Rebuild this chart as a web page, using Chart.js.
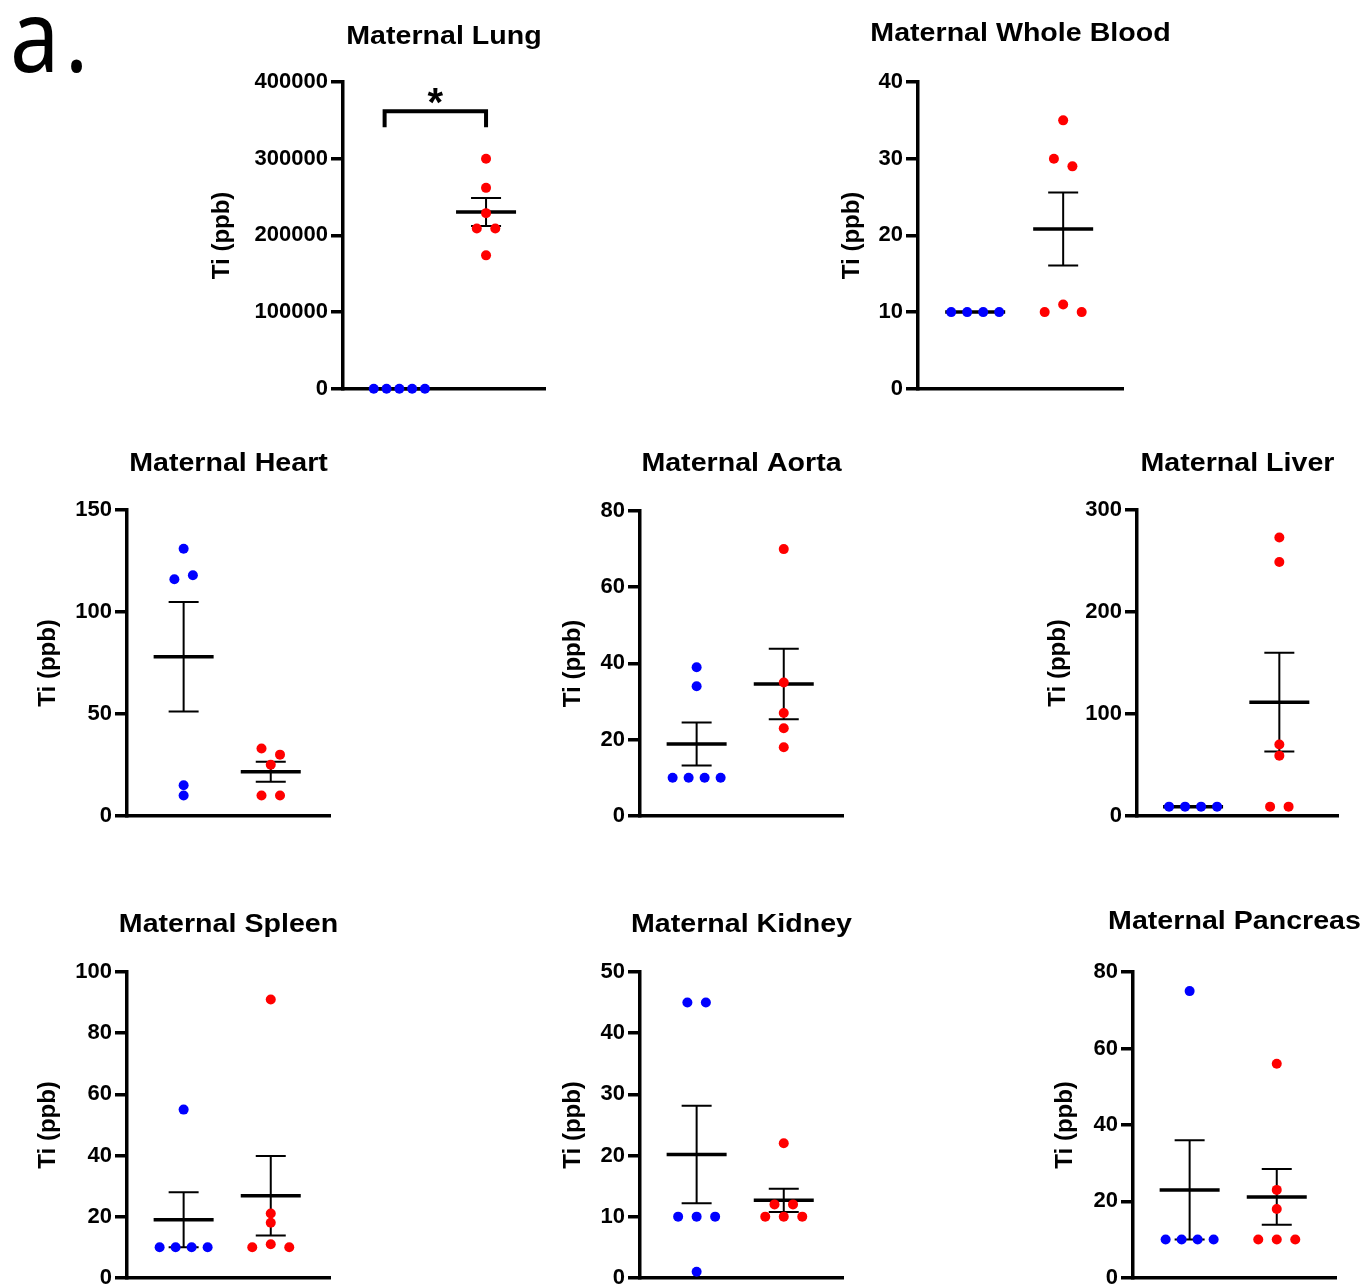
<!DOCTYPE html>
<html>
<head>
<meta charset="utf-8">
<script src="https://cdn.jsdelivr.net/npm/chart.js@4.4.1/dist/chart.umd.min.js"></script>
<style>
  body { margin:0; background:#fff; width:1365px; height:1286px; overflow:hidden; position:relative; }
  canvas { position:absolute; }
  #tag { position:absolute; left:10px; top:-17px; font:100px/100px "Noto Sans", sans-serif; color:#000;
         letter-spacing:6px; transform:scaleX(0.88); transform-origin:left top; }
</style>
</head>
<body>
<div id="tag">a.</div>
<script>
// Ti concentration (ppb) per animal
// ctrl = blue group, exp = red group
const LUNG_CTRL = [0, 0, 0, 0, 0];
const LUNG_EXP = [300000, 262000, 229000, 209000, 209000, 174000];
const BLOOD_CTRL = [10, 10, 10, 10];
const BLOOD_EXP = [35, 30, 29, 10, 11, 10];
const HEART_CTRL = [131, 116, 118, 15, 10];
const HEART_EXP = [33, 30, 25, 10, 10];
const AORTA_CTRL = [39, 34, 10, 10, 10, 10];
const AORTA_EXP = [70, 35, 27, 23, 18];
const LIVER_CTRL = [9, 9, 9, 9];
const LIVER_EXP = [273, 249, 70, 59, 9, 9];
const SPLEEN_CTRL = [55, 10, 10, 10, 10];
const SPLEEN_EXP = [91, 21, 18, 10, 11, 10];
const KIDNEY_CTRL = [45, 45, 10, 10, 10, 1];
const KIDNEY_EXP = [22, 12, 12, 10, 10, 10];
const PANCREAS_CTRL = [75, 10, 10, 10, 10];
const PANCREAS_EXP = [56, 23, 18, 10, 10, 10];

// y axis ticks per panel
const LUNG_TICKS = [0, 100000, 200000, 300000, 400000];
const BLOOD_TICKS = [0, 10, 20, 30, 40];
const HEART_TICKS = [0, 50, 100, 150];
const AORTA_TICKS = [0, 20, 40, 60, 80];
const LIVER_TICKS = [0, 100, 200, 300];
const SPLEEN_TICKS = [0, 20, 40, 60, 80, 100];
const KIDNEY_TICKS = [0, 10, 20, 30, 40, 50];
const PANCREAS_TICKS = [0, 20, 40, 60, 80];

// significance bracket on the lung panel (x in group units, y in ppb)
const SIG_X = [0.83, 2.0];
const SIG_Y = [341000, 362000];
const SIG_STAR_Y = 386000;

const BLUE = '#0000ff', RED = '#ff0000';
const FONT = '"Liberation Sans", Arial, sans-serif';
const X_MIN = 0.35, X_MAX = 2.68;
const SWARM_GAP = 9, MEAN_HALF = 30, CAP_HALF = 15;

// page layout of each panel: axis x, right end, top/bottom of plot, label gap, title y
const PANELS = [
  { title:'Maternal Lung', ctrl:LUNG_CTRL, exp:LUNG_EXP, ticks:LUNG_TICKS, ax:343, right:545, top:82, bottom:389, labelGap:121, titleY:34, sig:true },
  { title:'Maternal Whole Blood', ctrl:BLOOD_CTRL, exp:BLOOD_EXP, ticks:BLOOD_TICKS, ax:918, right:1123, top:82, bottom:389, labelGap:66, titleY:31 },
  { title:'Maternal Heart', ctrl:HEART_CTRL, exp:HEART_EXP, ticks:HEART_TICKS, ax:127, right:330, top:510, bottom:816, labelGap:79, titleY:461 },
  { title:'Maternal Aorta', ctrl:AORTA_CTRL, exp:AORTA_EXP, ticks:AORTA_TICKS, ax:640, right:843, top:511, bottom:816, labelGap:67, titleY:461 },
  { title:'Maternal Liver', ctrl:LIVER_CTRL, exp:LIVER_EXP, ticks:LIVER_TICKS, ax:1137, right:1338, top:510, bottom:816, labelGap:79, titleY:461 },
  { title:'Maternal Spleen', ctrl:SPLEEN_CTRL, exp:SPLEEN_EXP, ticks:SPLEEN_TICKS, ax:127, right:330, top:972, bottom:1278, labelGap:79, titleY:922 },
  { title:'Maternal Kidney', ctrl:KIDNEY_CTRL, exp:KIDNEY_EXP, ticks:KIDNEY_TICKS, ax:640, right:843, top:972, bottom:1278, labelGap:67, titleY:922 },
  { title:'Maternal Pancreas', ctrl:PANCREAS_CTRL, exp:PANCREAS_EXP, ticks:PANCREAS_TICKS, ax:1133, right:1336, top:972, bottom:1278, labelGap:68, titleY:919 }
];

function meanSem(vals) {
  const n = vals.length;
  const m = vals.reduce((a, b) => a + b, 0) / n;
  const ss = vals.reduce((a, v) => a + (v - m) * (v - m), 0);
  return { mean: m, sem: Math.sqrt(ss / (n - 1)) / Math.sqrt(n) };
}

// spread points with (nearly) equal values side by side, like a prism scatter
function swarm(vals, center, pxPerY, xPerPx) {
  const idx = vals.map((v, i) => i).sort((a, b) => vals[b] - vals[a] || a - b);
  const out = [];
  let i = 0;
  while (i < idx.length) {
    let j = i + 1;
    while (j < idx.length && (vals[idx[j - 1]] - vals[idx[j]]) * pxPerY < SWARM_GAP) j++;
    const grp = idx.slice(i, j).sort((a, b) => a - b);
    const k = grp.length, sp = Math.min(18.5, 64 / k);
    grp.forEach((g, n) => { out[g] = { x: center + (n - (k - 1) / 2) * sp * xPerPx, y: vals[g] }; });
    i = j;
  }
  return out;
}

function summaryLines(vals, center, xPerPx) {
  const s = meanSem(vals);
  const hw = MEAN_HALF * xPerPx, cw = CAP_HALF * xPerPx;
  const lo = s.mean - s.sem, hi = s.mean + s.sem;
  return {
    mean: [{ x:center - hw, y:s.mean }, { x:center + hw, y:s.mean }],
    err: [{ x:center - cw, y:hi }, { x:center + cw, y:hi }, { x:center, y:null },
          { x:center, y:hi }, { x:center, y:lo }, { x:center, y:null },
          { x:center - cw, y:lo }, { x:center + cw, y:lo }]
  };
}

const panelText = {
  id: 'panelText',
  afterDraw(chart, args, opts) {
    const { ctx, chartArea } = chart;
    ctx.save();
    ctx.fillStyle = '#000';
    ctx.font = 'bold 26px ' + FONT;
    ctx.textAlign = 'center';
    ctx.textBaseline = 'middle';
    ctx.translate((chartArea.left + chartArea.right) / 2, chartArea.top - opts.titleOffset + 3);
    ctx.scale(1.1, 1);
    ctx.fillText(opts.title, 0, 0);
    ctx.restore();
    if (opts.sig) {
      const x = chart.scales.x.getPixelForValue((SIG_X[0] + SIG_X[1]) / 2);
      const y = chart.scales.y.getPixelForValue(SIG_STAR_Y);
      ctx.save();
      ctx.fillStyle = '#000';
      ctx.font = 'bold 40px ' + FONT;
      ctx.textAlign = 'center';
      ctx.textBaseline = 'alphabetic';
      ctx.fillText('*', x, y + 23);
      ctx.restore();
    }
  }
};

function makePanel(p) {
  const yMax = p.ticks[p.ticks.length - 1];
  const plotW = p.right - p.ax, plotH = p.bottom - p.top;
  const xPerPx = (X_MAX - X_MIN) / plotW;
  const pxPerY = plotH / yMax;
  const W = p.labelGap + 20;
  const padTop = p.top - p.titleY + 30, padBottom = 16, padRight = 90;
  const width = W + plotW + padRight, height = padTop + plotH + padBottom;

  const cv = document.createElement('canvas');
  cv.width = width; cv.height = height;
  cv.style.width = width + 'px'; cv.style.height = height + 'px';
  cv.style.left = (p.ax - W) + 'px'; cv.style.top = (p.top - padTop) + 'px';
  document.body.appendChild(cv);

  const c = summaryLines(p.ctrl, 1, xPerPx), e = summaryLines(p.exp, 2, xPerPx);
  const line = (data, w) => ({ type:'line', data, borderColor:'#000', borderWidth:w, pointRadius:0,
                               showLine:true, spanGaps:false, fill:false, order:1, clip:false, borderCapStyle:'butt' });
  const dots = (vals, center, color) => ({ data: swarm(vals, center, pxPerY, xPerPx), backgroundColor:color,
                               pointRadius:5, pointBorderWidth:0, order:0, clip:false });
  const datasets = [
    dots(p.ctrl, 1, BLUE), dots(p.exp, 2, RED),
    line(c.mean, 3.5), line(e.mean, 3.5), line(c.err, 2), line(e.err, 2)
  ];
  if (p.sig) {
    datasets.push(line([{ x:SIG_X[0], y:SIG_Y[0] }, { x:SIG_X[0], y:SIG_Y[1] },
                        { x:SIG_X[1], y:SIG_Y[1] }, { x:SIG_X[1], y:SIG_Y[0] }], 4));
  }

  new Chart(cv, {
    type: 'scatter',
    data: { datasets },
    plugins: [panelText],
    options: {
      responsive: false,
      devicePixelRatio: 1,
      animation: false,
      events: [],
      layout: { padding: { top:padTop, left:0, right:padRight, bottom:padBottom } },
      plugins: {
        legend: { display:false },
        tooltip: { enabled:false },
        panelText: { title:p.title, titleOffset:p.top - p.titleY, sig:!!p.sig }
      },
      scales: {
        x: {
          type: 'linear', min:X_MIN, max:X_MAX,
          grid: { display:false, drawTicks:false },
          ticks: { display:false },
          border: { display:true, width:3.5, color:'#000' }
        },
        y: {
          type: 'linear', min:0, max:yMax,
          afterFit: s => { s.width = W; },
          afterBuildTicks: s => { s.ticks = p.ticks.map(v => ({ value:v })); },
          grid: { display:true, drawOnChartArea:false, drawTicks:true, tickLength:12, lineWidth:3.5, color:'#000' },
          border: { display:true, width:3.5, color:'#000' },
          ticks: { color:'#000', padding:3, font:{ family:FONT, size:22, weight:'bold' }, callback: v => String(v) },
          title: { display:true, text:'Ti (ppb)', color:'#000', padding:{ top:5.6, bottom:0 },
                   font:{ family:FONT, size:24, weight:'bold' } }
        }
      }
    }
  });
}

PANELS.forEach(makePanel);
</script>
</body>
</html>
